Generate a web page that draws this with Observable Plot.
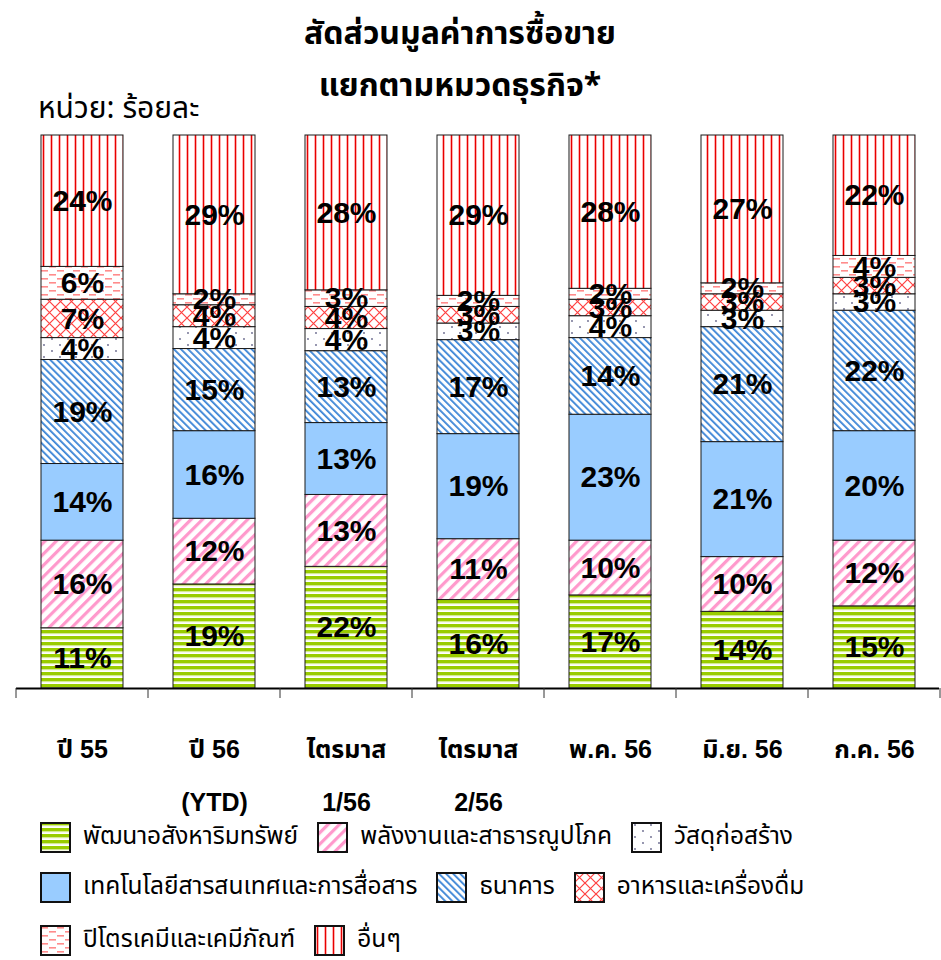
<!DOCTYPE html>
<html>
<head>
<meta charset="utf-8">
<script src="https://cdn.jsdelivr.net/npm/d3@7"></script>
<script src="https://cdn.jsdelivr.net/npm/@observablehq/plot@0.6"></script>
<style>
  body { margin: 0; background: #fff; }
  #root { position: relative; width: 941px; height: 960px;
          font-family: "Noto Sans Thai", "Noto Sans", "DejaVu Sans", sans-serif; color: #000; }
  .title { position: absolute; left: 0; width: 920px; text-align: center; font-weight: bold; font-size: 32px; line-height: 1; }
  .unit { position: absolute; left: 38px; top: 94px; font-size: 30px; line-height: 1; }
  #chart { position: absolute; left: 0; top: 120px; }
  .lrow { position: absolute; left: 40px; height: 31px; display: flex; align-items: center; font-size: 24.5px; line-height: 1; white-space: nowrap; }
  .sw { width: 31px; height: 31px; flex: none; margin-right: 12px; }
  .lt { margin-right: 19px; }
</style>
</head>
<body>
<div id="root">
  <div class="title" style="top:18px">สัดส่วนมูลค่าการซื้อขาย</div>
  <div class="title" style="top:70px">แยกตามหมวดธุรกิจ*</div>
  <div class="unit">หน่วย: ร้อยละ</div>
  <svg width="0" height="0" style="position:absolute">
    <defs>
      <pattern id="p0" patternUnits="userSpaceOnUse" width="8" height="6">
        <rect width="8" height="6" fill="#fff"/>
        <rect y="0" width="8" height="3.4" fill="#99cc00"/>
        <rect y="3.4" width="8" height="0.8" fill="#d4ea8c"/>
      </pattern>
      <pattern id="p1" patternUnits="userSpaceOnUse" width="8" height="8" patternTransform="rotate(45)">
        <rect width="8" height="8" fill="#fff"/>
        <rect x="0" width="3.2" height="8" fill="#ff99cc"/>
      </pattern>
      <pattern id="p2" patternUnits="userSpaceOnUse" width="8" height="8">
        <rect width="8" height="8" fill="#99ccff"/>
      </pattern>
      <pattern id="p3" patternUnits="userSpaceOnUse" width="5" height="5" patternTransform="rotate(-45)">
        <rect width="5" height="5" fill="#fff"/>
        <rect x="0" width="1.8" height="5" fill="#3a84d6"/>
      </pattern>
      <pattern id="p4" patternUnits="userSpaceOnUse" width="16" height="12">
        <rect width="16" height="12" fill="#fff"/>
        <circle cx="4" cy="3" r="0.9" fill="#66668a"/>
        <circle cx="12" cy="9" r="0.9" fill="#66668a"/>
      </pattern>
      <pattern id="p5" patternUnits="userSpaceOnUse" width="11" height="11">
        <rect width="11" height="11" fill="#fff"/>
        <path d="M0,0L11,11M11,0L0,11" stroke="#ff4040" stroke-width="1.2"/>
      </pattern>
      <pattern id="p6" patternUnits="userSpaceOnUse" width="16" height="8">
        <rect width="16" height="8" fill="#fff"/>
        <rect x="1" y="2" width="7" height="1.6" fill="#ff8c8c"/>
        <rect x="9" y="6" width="7" height="1.6" fill="#ff8c8c"/>
      </pattern>
      <pattern id="p7" patternUnits="userSpaceOnUse" width="8" height="4">
        <rect width="8" height="4" fill="#fff"/>
        <rect x="2.2" width="0.7" height="4" fill="#ffb0b0"/>
        <rect x="2.9" width="1.4" height="4" fill="#e80000"/>
        <rect x="4.3" width="0.7" height="4" fill="#ffb0b0"/>
      </pattern>
    </defs>
  </svg>
  <div id="chart"></div>
  <div id="legend"></div>
</div>
<script>
// ---- data ----
const periods = ["ปี 55", "ปี 56", "ไตรมาส 1/56", "ไตรมาส 2/56", "พ.ค. 56", "มิ.ย. 56", "ก.ค. 56"];
const periodLabels = ["ปี 55", "ปี 56\n(YTD)", "ไตรมาส\n1/56", "ไตรมาส\n2/56", "พ.ค. 56", "มิ.ย. 56", "ก.ค. 56"];
const categories = [
  "พัฒนาอสังหาริมทรัพย์",
  "พลังงานและสาธารณูปโภค",
  "เทคโนโลยีสารสนเทศและการสื่อสาร",
  "ธนาคาร",
  "วัสดุก่อสร้าง",
  "อาหารและเครื่องดื่ม",
  "ปิโตรเคมีและเคมีภัณฑ์",
  "อื่นๆ"
];
const property     = [11, 19, 22, 16, 17, 14, 15];
const energy       = [16, 12, 13, 11, 10, 10, 12];
const ict          = [14, 16, 13, 19, 23, 21, 20];
const bank         = [19, 15, 13, 17, 14, 21, 22];
const construction = [4, 4, 4, 3, 4, 3, 3];
const food         = [7, 4, 4, 3, 3, 3, 3];
const petro        = [6, 2, 3, 2, 2, 2, 4];
const others       = [24, 29, 28, 29, 28, 27, 22];
const legendRows = [[0, 1, 4], [2, 3, 5], [6, 7]];

// ---- build ----
const series = [property, energy, ict, bank, construction, food, petro, others];
const patternUrls = categories.map((_, i) => `url(#p${i})`);
const rows = [];
periods.forEach((p, j) => categories.forEach((c, i) => rows.push({period: p, cat: c, value: series[i][j]})));

const numFont = '"Liberation Sans Narrow", "Arial Narrow", "Liberation Sans", Arial, "Noto Sans Thai", sans-serif';

function boundaryTicks(index, scales, values, dimensions) {
  const x = scales.x;
  const step = x.step(), bw = x.bandwidth();
  const y0 = dimensions.height - dimensions.marginBottom;
  const g = d3.create("svg:g").attr("stroke", "#333").attr("stroke-width", 1);
  const xs = periods.map(p => x(p) + bw / 2 - step / 2);
  xs.push(x(periods[periods.length - 1]) + bw / 2 + step / 2);
  xs.forEach(v => g.append("line").attr("x1", v).attr("x2", v).attr("y1", y0).attr("y2", y0 + 10));
  return g.node();
}

const chart = Plot.plot({
  width: 941,
  height: 690,
  marginTop: 15,
  marginBottom: 122,
  marginLeft: 16,
  marginRight: 2,
  x: {domain: periods, paddingInner: 0.38, paddingOuter: 0.17, label: null},
  y: {axis: null, domain: [0, 1]},
  color: {type: "ordinal", domain: categories, range: patternUrls},
  style: {fontFamily: numFont, background: "transparent", overflow: "visible"},
  marks: [
    Plot.barY(rows, Plot.stackY({x: "period", y: "value", fill: "cat", stroke: "#1a1a1a", strokeWidth: 1, offset: "normalize"})),
    Plot.text(rows, Plot.stackY({
      x: "period", y: "value", offset: "normalize",
      text: d => d.value + "%",
      fontSize: 30, fontWeight: "bold", fill: "#000", fontFamily: numFont,
      letterSpacing: -1
    })),
    Plot.ruleY([0], {stroke: "#000", strokeWidth: 2}),
    Plot.axisX({
      tickSize: 0, tickPadding: 32, fontSize: 25, fontWeight: "bold", lineHeight: 2.12,
      fontFamily: numFont, fill: "#000",
      tickFormat: d => periodLabels[periods.indexOf(d)]
    }),
    boundaryTicks
  ]
});
document.getElementById("chart").appendChild(chart);

// ---- legend ----
const legend = document.getElementById("legend");
const rowTops = [822, 872, 925];
legendRows.forEach((idxs, r) => {
  const row = document.createElement("div");
  row.className = "lrow";
  row.style.top = rowTops[r] + "px";
  idxs.forEach(i => {
    const sw = document.createElementNS("http://www.w3.org/2000/svg", "svg");
    sw.setAttribute("class", "sw");
    sw.setAttribute("width", 31);
    sw.setAttribute("height", 31);
    const rect = document.createElementNS("http://www.w3.org/2000/svg", "rect");
    rect.setAttribute("x", 1); rect.setAttribute("y", 1);
    rect.setAttribute("width", 29); rect.setAttribute("height", 29);
    rect.setAttribute("fill", patternUrls[i]);
    rect.setAttribute("stroke", "#111");
    rect.setAttribute("stroke-width", 2);
    sw.appendChild(rect);
    const t = document.createElement("span");
    t.className = "lt";
    t.textContent = categories[i];
    row.appendChild(sw);
    row.appendChild(t);
  });
  legend.appendChild(row);
});
</script>
</body>
</html>
